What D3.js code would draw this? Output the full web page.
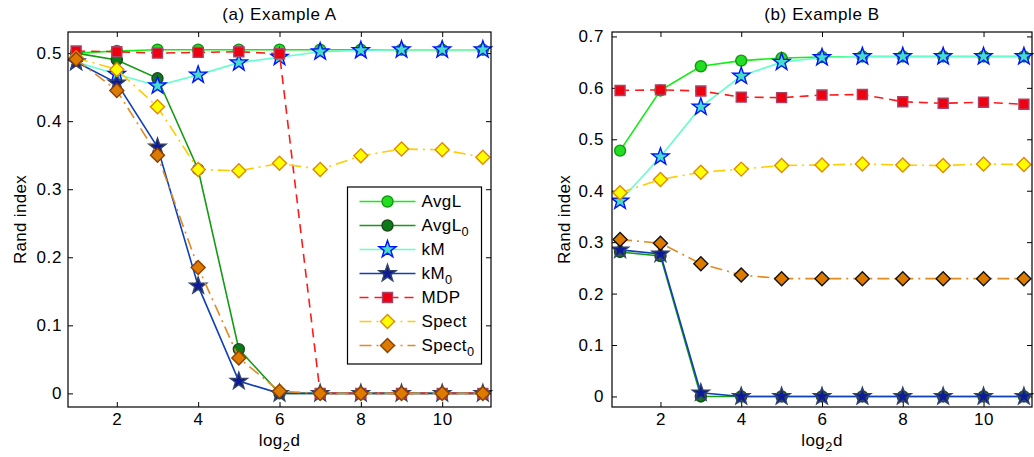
<!DOCTYPE html>
<html>
<head>
<meta charset="utf-8">
<script src="https://cdn.jsdelivr.net/npm/d3@7"></script>
<style>
  body { margin: 0; background: #fff; }
  svg { font-family: "Liberation Sans", Arial, sans-serif; }
</style>
</head>
<body>
<div id="chart"></div>
<script>
var xs = [1, 2, 3, 4, 5, 6, 7, 8, 9, 10, 11];
var xTicks = [2, 4, 6, 8, 10];

// Example A
var aAvgL   = [0.500, 0.503, 0.505, 0.505, 0.505, 0.505, 0.505, 0.505, 0.505, 0.505, 0.505];
var aAvgL0  = [0.500, 0.490, 0.463, 0.329, 0.065, 0, 0, 0, 0, 0, 0];
var aKM     = [0.487, 0.469, 0.452, 0.468, 0.486, 0.494, 0.502, 0.504, 0.505, 0.505, 0.505];
var aKM0    = [0.487, 0.456, 0.362, 0.158, 0.018, 0, 0, 0, 0, 0, 0];
var aMDP    = [0.503, 0.502, 0.500, 0.501, 0.502, 0.499, 0, 0, 0, 0, 0];
var aSpect  = [0.493, 0.476, 0.421, 0.329, 0.327, 0.338, 0.329, 0.349, 0.359, 0.358, 0.347];
var aSpect0 = [0.491, 0.445, 0.350, 0.185, 0.052, 0.003, 0, 0, 0, 0, 0];
var aYTicks = [0, 0.1, 0.2, 0.3, 0.4, 0.5];

// Example B
var bAvgL   = [0.478, 0.595, 0.642, 0.653, 0.658, 0.660, 0.661, 0.661, 0.661, 0.661, 0.661];
var bAvgL0  = [0.281, 0.273, 0, 0, 0, 0, 0, 0, 0, 0, 0];
var bKM     = [0.380, 0.466, 0.563, 0.623, 0.650, 0.659, 0.661, 0.661, 0.661, 0.661, 0.661];
var bKM0    = [0.285, 0.277, 0.007, 0, 0, 0, 0, 0, 0, 0, 0];
var bMDP    = [0.595, 0.596, 0.594, 0.582, 0.581, 0.586, 0.587, 0.573, 0.570, 0.572, 0.568];
var bSpect  = [0.396, 0.422, 0.436, 0.442, 0.449, 0.450, 0.452, 0.450, 0.449, 0.452, 0.451];
var bSpect0 = [0.305, 0.298, 0.258, 0.236, 0.229, 0.229, 0.229, 0.229, 0.229, 0.229, 0.229];
var bYTicks = [0, 0.1, 0.2, 0.3, 0.4, 0.5, 0.6, 0.7];

var names = ["AvgL", "AvgL0", "kM", "kM0", "MDP", "Spect", "Spect0"];

var fontSize = 17;

function starPath(R, r) {
    var p = [];
    for (var i = 0; i < 10; i++) {
        var a = -Math.PI / 2 + i * Math.PI / 5;
        var rr = i % 2 == 0 ? R : r;
        p.push([rr * Math.cos(a), rr * Math.sin(a)]);
    }
    return "M" + p.join("L") + "Z";
}
var markers = {
    circle: "M5.5,0A5.5,5.5 0 1,1 -5.5,0A5.5,5.5 0 1,1 5.5,0Z",
    square: "M-5,-5L5,-5L5,5L-5,5Z",
    diamond: "M0,-7L7,0L0,7L-7,0Z",
    star: starPath(9, 3.6)
};

function styles(panel) {
    return {
        AvgL:   { line: "#11ee11", dash: null, marker: "circle", fill: "#22dd22", stroke: "#119911" },
        AvgL0:  { line: "#149a14", dash: null, marker: "circle", fill: "#0d7a1a", stroke: "#1c4a1c" },
        kM:     { line: "#66ffcc", dash: null, marker: "star", fill: "#44ddcc", stroke: "#0011ff" },
        kM0:    { line: "#1040b8", dash: null, marker: "star", fill: "#0d1a99", stroke: "#334466" },
        MDP:    { line: "#ff1a1a", dash: "9,6", marker: "square", fill: "#ee0011", stroke: "#aa4466" },
        Spect:  { line: "#ffcc00", dash: "12,5,2,5", marker: "diamond", fill: "#ffff00", stroke: "#e08800" },
        Spect0: { line: "#e08a20", dash: "12,5,2,5", marker: "diamond", fill: "#dd7a00",
                  stroke: panel == "b" ? "#111111" : "#8a4000" }
    };
}

var svg = d3.select("#chart").append("svg")
    .attr("width", 1034)
    .attr("height", 457);

function label(sel, base, sub) {
    sel.append("tspan").text(base);
    if (sub) sel.append("tspan").attr("dy", 5).attr("font-size", "0.75em").text(sub);
}

function drawPanel(box, title, yDomain, yTicks, series, panel, legend) {
    var x = d3.scaleLinear().domain([0.8, 11.2]).range([box.left, box.right]);
    var y = d3.scaleLinear().domain(yDomain).range([box.bottom, box.top]);
    var g = svg.append("g");
    var st = styles(panel);

    // axes box with inward ticks
    g.append("g").attr("transform", "translate(0," + box.bottom + ")")
        .call(d3.axisBottom(x).tickValues(xTicks).tickSizeInner(-5).tickSizeOuter(0).tickPadding(6))
        .call(ax => ax.select(".domain").remove());
    g.append("g").attr("transform", "translate(0," + box.top + ")")
        .call(d3.axisTop(x).tickValues(xTicks).tickSizeInner(-5).tickSizeOuter(0).tickFormat(""))
        .call(ax => ax.select(".domain").remove());
    g.append("g").attr("transform", "translate(" + box.left + ",0)")
        .call(d3.axisLeft(y).tickValues(yTicks).tickSizeInner(-5).tickSizeOuter(0).tickPadding(box.pad)
            .tickFormat(d => d == 0 ? "0" : d3.format(".1f")(d)))
        .call(ax => ax.select(".domain").remove());
    g.append("g").attr("transform", "translate(" + box.right + ",0)")
        .call(d3.axisRight(y).tickValues(yTicks).tickSizeInner(-5).tickSizeOuter(0).tickFormat(""))
        .call(ax => ax.select(".domain").remove());
    g.selectAll(".tick line").attr("stroke", "#000");
    g.selectAll(".tick text").attr("font-size", fontSize).attr("fill", "#000")
        .attr("letter-spacing", 0.6)
        .attr("font-family", "Liberation Sans, Arial, sans-serif");

    var clipId = "clip" + panel;
    svg.append("clipPath").attr("id", clipId).append("rect")
        .attr("x", box.left).attr("y", box.top - 12)
        .attr("width", box.right - box.left + 12).attr("height", box.bottom - box.top + 12);

    var line = d3.line().x((d, i) => x(xs[i])).y(d => y(d));
    var plot = g.append("g").attr("clip-path", "url(#" + clipId + ")");
    names.forEach(function(n) {
        var s = st[n];
        plot.append("path")
            .attr("d", line(series[n]))
            .attr("fill", "none")
            .attr("stroke", s.line)
            .attr("stroke-width", 1.6)
            .attr("stroke-dasharray", s.dash);
        plot.selectAll(null)
            .data(series[n])
            .enter()
            .append("path")
            .attr("d", markers[s.marker])
            .attr("transform", (d, i) => "translate(" + x(xs[i]) + "," + y(d) + ")")
            .attr("fill", s.fill)
            .attr("stroke", s.stroke)
            .attr("stroke-width", 1.4);
    });

    g.append("rect")
        .attr("x", box.left).attr("y", box.top)
        .attr("width", box.right - box.left).attr("height", box.bottom - box.top)
        .attr("fill", "none").attr("stroke", "#000").attr("stroke-width", 1.2);

    g.append("text")
        .attr("x", (box.left + box.right) / 2).attr("y", 20)
        .attr("text-anchor", "middle").attr("font-size", fontSize)
        .attr("letter-spacing", 0.6)
        .text(title);

    g.append("text")
        .attr("transform", "translate(" + (box.left - 42) + "," + ((box.top + box.bottom) / 2) + ") rotate(-90)")
        .attr("text-anchor", "middle").attr("font-size", fontSize)
        .attr("letter-spacing", 0.3)
        .text("Rand index");

    var xl = g.append("text")
        .attr("x", (box.left + box.right) / 2).attr("y", 446)
        .attr("text-anchor", "middle").attr("font-size", fontSize)
        .attr("letter-spacing", 0.5);
    label(xl, "log", "2");
    xl.append("tspan").attr("dy", -5).text("d");

    if (legend) {
        var lg = g.append("g");
        lg.append("rect")
            .attr("x", legend.x).attr("y", legend.y)
            .attr("width", legend.w).attr("height", legend.h)
            .attr("fill", "#fff").attr("stroke", "#000").attr("stroke-width", 1.2);
        names.forEach(function(n, i) {
            var s = st[n];
            var cy = legend.y + 14.5 + i * 24;
            lg.append("line")
                .attr("x1", legend.x + 12).attr("x2", legend.x + 68)
                .attr("y1", cy).attr("y2", cy)
                .attr("stroke", s.line).attr("stroke-width", 1.6)
                .attr("stroke-dasharray", s.dash);
            lg.append("path")
                .attr("d", markers[s.marker])
                .attr("transform", "translate(" + (legend.x + 40) + "," + cy + ")")
                .attr("fill", s.fill).attr("stroke", s.stroke).attr("stroke-width", 1.4);
            var t = lg.append("text")
                .attr("x", legend.x + 74).attr("y", cy + 5)
                .attr("font-size", fontSize)
                .attr("letter-spacing", 0.4);
            var base = n.replace(/0$/, "");
            label(t, base, n.endsWith("0") ? "0" : null);
        });
    }
}

drawPanel({ left: 68, right: 491, top: 32, bottom: 407, pad: 6 }, "(a) Example A", [-0.02, 0.531], aYTicks,
    { AvgL: aAvgL, AvgL0: aAvgL0, kM: aKM, kM0: aKM0, MDP: aMDP, Spect: aSpect, Spect0: aSpect0 },
    "a", { x: 347.5, y: 187, w: 134, h: 177 });

drawPanel({ left: 612, right: 1032, top: 32, bottom: 407, pad: 8 }, "(b) Example B", [-0.0205, 0.7086], bYTicks,
    { AvgL: bAvgL, AvgL0: bAvgL0, kM: bKM, kM0: bKM0, MDP: bMDP, Spect: bSpect, Spect0: bSpect0 },
    "b", null);
</script>
</body>
</html>
